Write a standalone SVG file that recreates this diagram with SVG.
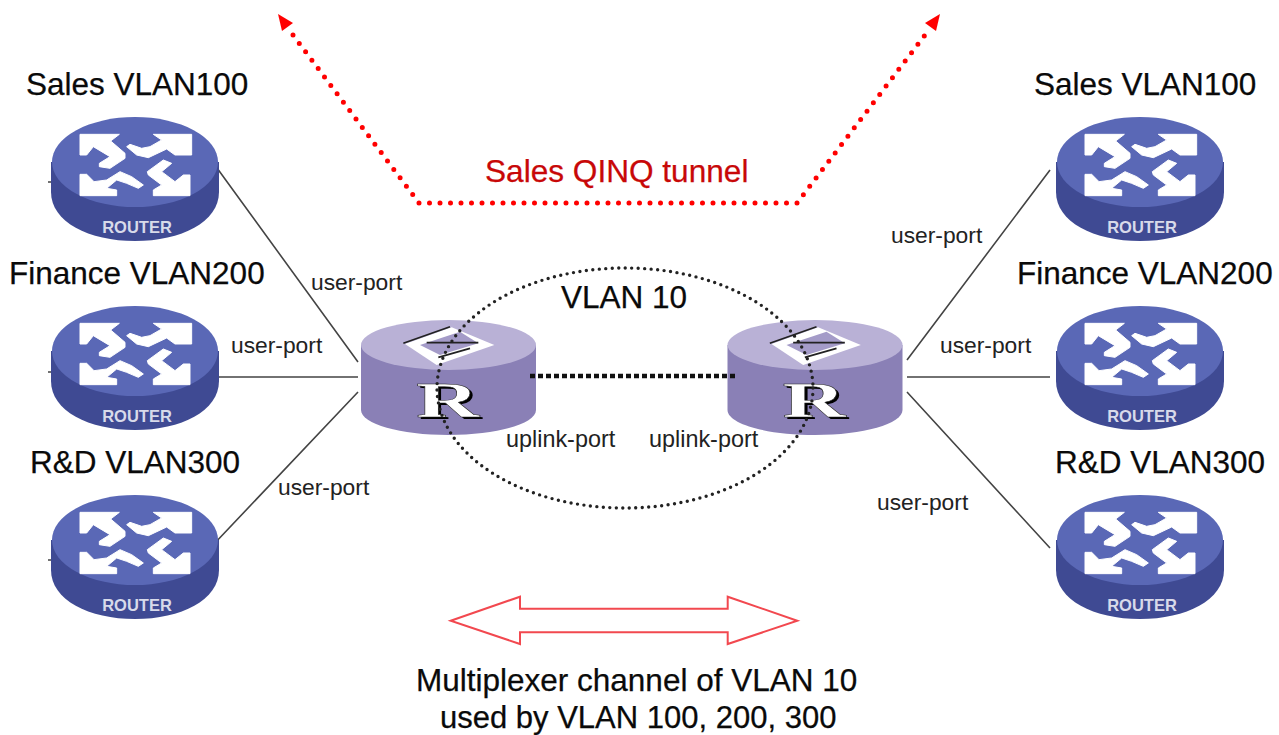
<svg xmlns="http://www.w3.org/2000/svg" width="1279" height="735" viewBox="0 0 1279 735">
<style>
text{font-family:"Liberation Sans",Arial,sans-serif;fill:#0a0a0a}
.big{font-size:31.500px;stroke:#0a0a0a;stroke-width:.25}
.small{font-size:22.800px;fill:#222}
.up{font-size:23.400px;fill:#222}
.wire{stroke:#444;stroke-width:1.600;fill:none}
.cap{fill:#5a68b6}
.rim{fill:#3f4a93}
.rlabel{font-size:16.500px;font-weight:700;fill:#d8daea;text-anchor:middle}
.top{fill:#b9b1d6}
.side{fill:#8a80b6}
.R{font-family:"Liberation Serif",serif;font-weight:700;font-size:50px;text-anchor:middle}
</style>
<defs>
<g id="router">
<path class="rim" d="M-84 0V30C-84 60-46 79 0 79S84 60 84 30V0Z"/>
<ellipse class="cap" cx="0" cy="0" rx="83" ry="45"/>
<g transform="scale(.3333) translate(-195,-111)" fill="#fff" stroke="#fff" stroke-width="3" stroke-linejoin="round">
<polygon points="30,28 148,28 122,48 165,85 165,100 120,130 88,125 88,115 120,95 70,65 50,90 30,90"/>
<polygon points="365,28 250,28 275,45 240,65 215,70 180,58 170,65 200,90 235,98 290,72 315,90 365,90"/>
<polygon points="30,212 30,148 50,148 72,170 110,165 150,140 185,155 220,180 205,190 170,175 140,165 110,190 140,195 140,212"/>
<polygon points="360,212 250,212 250,195 275,180 235,150 232,140 280,105 305,115 275,140 315,170 340,150 360,150"/>
</g>
<text class="rlabel" x="2" y="71">ROUTER</text>
</g>
<g id="hub">
<path class="side" d="M-87.500 0V65C-87.500 79-48 90 0 90S87.500 79 87.500 65V0Z"/>
<ellipse class="top" cx="0" cy="0" rx="87.500" ry="25"/>
<g transform="scale(.3333) translate(-160.500,-75)">
<polygon points="30,72 170,22 298,75 125,135" fill="#fff"/>
<polygon points="75,75 195,35 250,70 135,105" fill="#a49bc8"/>
<path d="M25,70L165,20M95,68H250M130,112L225,85" stroke="#222" stroke-width="5" fill="none"/>
</g>
<g transform="translate(0,72) scale(1.750,1)">
<text class="R" x="1" y="1.500" style="fill:#000">R</text>
<text class="R" x="-.5" y="0" style="fill:#fff;stroke:#222;stroke-width:.4">R</text>
</g>
</g>
</defs>
<rect width="1279" height="735" fill="#fff"/>
<g id="connectors">
<path class="wire" d="M217 168L358 362M48 182H54M215 377H358M48 372H54M213 545L358 392M48 560H54M1050 170L907 360M907 377H1050M907 392L1050 548"/>
</g>
<g id="node-sales-left"><use href="#router" x="135" y="162"/><text class="big" x="26" y="95">Sales VLAN100</text></g>
<g id="node-finance-left"><use href="#router" x="135" y="351"/><text class="big" x="9" y="284">Finance VLAN200</text></g>
<g id="node-rd-left"><use href="#router" x="135" y="540"/><text class="big" x="30" y="473">R&amp;D VLAN300</text></g>
<g id="node-sales-right"><use href="#router" x="1140" y="162"/><text class="big" x="1034" y="95">Sales VLAN100</text></g>
<g id="node-finance-right"><use href="#router" x="1140" y="351"/><text class="big" x="1017" y="284">Finance VLAN200</text></g>
<g id="node-rd-right"><use href="#router" x="1140" y="540"/><text class="big" x="1055" y="473">R&amp;D VLAN300</text></g>
<g id="node-hub-left"><use href="#hub" x="448.500" y="345"/></g>
<g id="node-hub-right"><use href="#hub" x="815" y="345"/></g>
<g id="overlay-connectors">
<path d="M530 376H735" fill="none" stroke="#111" stroke-width="4.500" stroke-dasharray="5 3"/>
<ellipse cx="625" cy="388" rx="188" ry="120" fill="none" stroke="#222" stroke-width="3.400" stroke-dasharray="0 6.500" stroke-linecap="round"/>
<path d="M293 35L419 203H797L925 35" fill="none" stroke="#f00" stroke-width="5" stroke-dasharray="0 10.500" stroke-linecap="round"/>
<polygon points="278,14 293,23 282,31" fill="#f00"/>
<polygon points="940,14 925,23 936,31" fill="#f00"/>
<polygon points="450.700,620.700 520,596.700 520,608.700 727.700,608.700 727.700,596.700 797.300,620.700 727.700,644 727.700,632.300 520,632.300 520,644" fill="#fff" stroke="#f2484f" stroke-width="2"/>
</g>
<g id="labels">
<text x="485" y="182" style="fill:#c80808;font-size:31.600px;stroke:#c80808;stroke-width:.25">Sales QINQ tunnel</text>
<text class="big" x="561" y="308">VLAN 10</text>
<text class="small" x="311" y="290">user-port</text>
<text class="small" x="231" y="353">user-port</text>
<text class="small" x="278" y="495">user-port</text>
<text class="small" x="891" y="243">user-port</text>
<text class="small" x="940" y="353">user-port</text>
<text class="small" x="877" y="510">user-port</text>
<text class="up" x="506" y="447">uplink-port</text>
<text class="up" x="649" y="447">uplink-port</text>
<text class="big" x="416" y="691">Multiplexer channel of VLAN 10</text>
<text class="big" x="440" y="728" style="font-size:31px">used by VLAN 100, 200, 300</text>
</g>
</svg>
